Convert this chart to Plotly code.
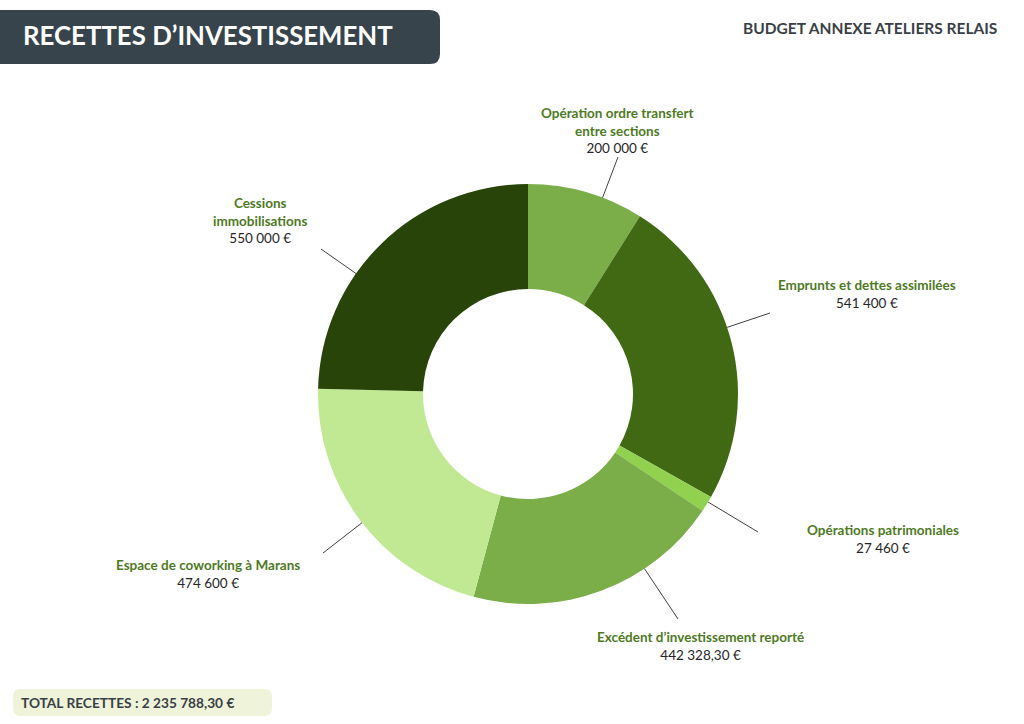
import math
import plotly.graph_objects as go

# Data
labels = [
    "Opération ordre transfert<br>entre sections",
    "Emprunts et dettes assimilées",
    "Opérations patrimoniales",
    "Excédent d’investissement reporté",
    "Espace de coworking à Marans",
    "Cessions<br>immobilisations",
]
values = [200000, 541400, 27460, 442328.30, 474600, 550000]
value_texts = ["200 000 €", "541 400 €", "27 460 €", "442 328,30 €", "474 600 €", "550 000 €"]
colors = ["#7bad48", "#416813", "#92d050", "#7bad48", "#c1e994", "#284409"]

# Label layout (pixel positions of label centres / leader ends)
label_pos = [(617, 130), (867, 294), (883, 539), (700, 646), (208, 574), (260, 220)]
leader_end = [(618, 157), (770, 313), (758, 532), (678, 619), (323, 553), (321, 249)]

W, H = 1024, 724
cx, cy, r = 528, 394, 210
FONT = "Lato, sans-serif"

fig = go.Figure(go.Pie(
    labels=[l.replace("<br>", " ") for l in labels],
    values=values,
    marker=dict(colors=colors, line=dict(width=0)),
    hole=0.5,
    sort=False,
    direction="clockwise",
    rotation=0,
    textinfo="none",
    hoverinfo="label+value",
    domain=dict(x=[(cx - r) / W, (cx + r) / W], y=[1 - (cy + r) / H, 1 - (cy - r) / H]),
    showlegend=False,
))

shapes = []
annotations = []
for lab, vt, (lx, ly), (ex, ey) in zip(labels, value_texts, label_pos, leader_end):
    # leader lines point radially at the ring
    ang = math.atan2(ey - cy, ex - cx)
    sx = cx + r * math.cos(ang)
    sy = cy + r * math.sin(ang)
    shapes.append(dict(type="line", xref="paper", yref="paper",
                       x0=sx / W, y0=1 - sy / H, x1=ex / W, y1=1 - ey / H,
                       line=dict(color="#404040", width=1)))
    annotations.append(dict(
        x=lx / W, y=1 - ly / H, xref="paper", yref="paper",
        text=f"<b><span style='color:#4e7a1f'>{lab}</span></b><br><span style='color:#262626'>{vt}</span>",
        showarrow=False, align="center", xanchor="center", yanchor="middle",
        font=dict(size=13.5, family=FONT)))

# Title box with rounded right corners
x1, y0p, y1p, rad = 440, 10, 64, 10
shapes.append(dict(
    type="path", xref="paper", yref="paper", line=dict(width=0), fillcolor="#37444c",
    path=(f"M 0 {1 - y0p / H} L {(x1 - rad) / W} {1 - y0p / H} "
          f"Q {x1 / W} {1 - y0p / H} {x1 / W} {1 - (y0p + rad) / H} "
          f"L {x1 / W} {1 - (y1p - rad) / H} "
          f"Q {x1 / W} {1 - y1p / H} {(x1 - rad) / W} {1 - y1p / H} "
          f"L 0 {1 - y1p / H} Z")))

# Total box
bx0, bx1, by0, by1, br = 13, 272, 689, 716, 8
shapes.append(dict(
    type="path", xref="paper", yref="paper", line=dict(width=0), fillcolor="#eff3da",
    path=(f"M {(bx0 + br) / W} {1 - by0 / H} L {(bx1 - br) / W} {1 - by0 / H} "
          f"Q {bx1 / W} {1 - by0 / H} {bx1 / W} {1 - (by0 + br) / H} "
          f"L {bx1 / W} {1 - (by1 - br) / H} "
          f"Q {bx1 / W} {1 - by1 / H} {(bx1 - br) / W} {1 - by1 / H} "
          f"L {(bx0 + br) / W} {1 - by1 / H} "
          f"Q {bx0 / W} {1 - by1 / H} {bx0 / W} {1 - (by1 - br) / H} "
          f"L {bx0 / W} {1 - (by0 + br) / H} "
          f"Q {bx0 / W} {1 - by0 / H} {(bx0 + br) / W} {1 - by0 / H} Z")))

annotations += [
    dict(x=21 / W, y=1 - 35 / H, xref="paper", yref="paper", xanchor="left", yanchor="middle",
         text="<b>RECETTES D’INVESTISSEMENT</b>", showarrow=False,
         font=dict(size=25.8, color="white", family=FONT)),
    dict(x=999 / W, y=1 - 28 / H, xref="paper", yref="paper", xanchor="right", yanchor="middle",
         text="<b>BUDGET ANNEXE ATELIERS RELAIS</b>", showarrow=False,
         font=dict(size=15.5, color="#3a3f46", family=FONT)),
    dict(x=19 / W, y=1 - 702 / H, xref="paper", yref="paper", xanchor="left", yanchor="middle",
         text=f"<b>TOTAL RECETTES : 2 235 788,30 €</b>", showarrow=False,
         font=dict(size=13.7, color="#3a3f46", family=FONT)),
]

fig.update_layout(
    width=W, height=H,
    margin=dict(l=0, r=0, t=0, b=0),
    paper_bgcolor="white", plot_bgcolor="white",
    shapes=shapes, annotations=annotations,
)

fig.write_html("out.html", config={"displayModeBar": False},
               post_script="document.body.style.margin='0';")
